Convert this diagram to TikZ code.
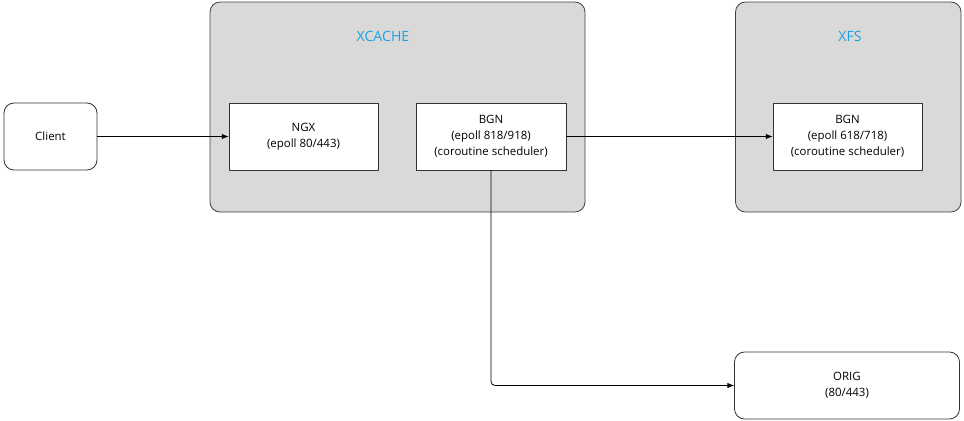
\documentclass[tikz,border=0pt]{standalone}
\usepackage{fontspec}
\setmainfont{Open Sans}
\usetikzlibrary{arrows.meta}
\definecolor{grp}{HTML}{D9D9D9}
\definecolor{lbl}{HTML}{1BA1E2}
\tikzset{
  grpbox/.style={draw=black!75, fill=grp, rounded corners=7.5pt, line width=0.6pt},
  sqbox/.style={draw=black!80, fill=white, line width=0.6pt, align=center, font=\fontsize{8.6}{12}\selectfont},
  rbox/.style={draw=black!80, fill=white, rounded corners=7.5pt, line width=0.6pt, align=center, font=\fontsize{8.6}{12}\selectfont},
  glabel/.style={text=lbl, font=\fontsize{10.6}{12}\selectfont},
  conn/.style={draw=black, line width=0.6pt, -{Latex[length=5pt,width=4pt]}}
}
\begin{document}
\begin{tikzpicture}[x=0.75pt,y=-0.75pt]
\useasboundingbox (0,0) rectangle (964,421);
% groups
\draw[grpbox] (210,2) rectangle (585,212);
\node[glabel] (xcl) at (383,36) {XCACHE};
\draw[grpbox] (735.5,2) rectangle (961,212);
\node[glabel] (xfl) at (850,36) {XFS};
% nodes
\node[rbox, minimum width=93*0.75pt, minimum height=67*0.75pt] (client) at (50.5,136.5) {Client};
\node[sqbox, minimum width=149*0.75pt, minimum height=67*0.75pt] (ngx) at (303.5,136.5) {NGX\\(epoll 80/443)};
\node[sqbox, minimum width=150*0.75pt, minimum height=67*0.75pt] (bgn) at (491,136.5) {BGN\\(epoll 818/918)\\(coroutine scheduler)};
\node[sqbox, minimum width=149*0.75pt, minimum height=67*0.75pt] (bgn2) at (847.5,136.5) {BGN\\(epoll 618/718)\\(coroutine scheduler)};
\node[rbox, minimum width=225*0.75pt, minimum height=67*0.75pt] (orig) at (847,385.5) {ORIG\\(80/443)};
% connectors
\draw[conn] (client.east) -- (ngx.west);
\draw[conn] (bgn.east) -- (bgn2.west);
\draw[conn, rounded corners=3pt] (bgn.south) |- (orig.west);
\end{tikzpicture}
\end{document}
